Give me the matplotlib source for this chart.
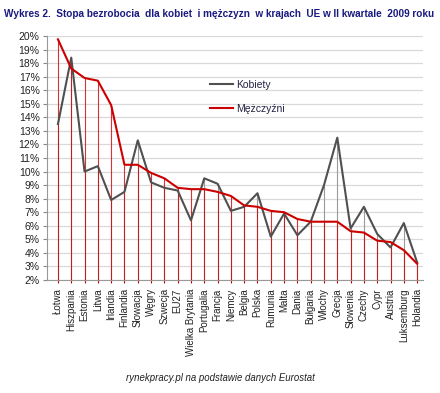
import matplotlib
matplotlib.use("Agg")
import matplotlib.pyplot as plt
from matplotlib.ticker import FuncFormatter, MultipleLocator

plt.rcParams["font.family"] = ["Liberation Sans", "DejaVu Sans"]

countries = ["Łotwa", "Hiszpania", "Estonia", "Litwa", "Irlandia", "Finlandia",
             "Słowacja", "Węgry", "Szwecja", "EU27", "Wielka Brytania", "Portugalia",
             "Francja", "Niemcy", "Belgia", "Polska", "Rumunia", "Malta", "Dania",
             "Bułgaria", "Włochy", "Grecja", "Słowenia", "Czechy", "Cypr", "Austria",
             "Luksemburg", "Holandia"]
kobiety = [13.5, 18.4, 10.0, 10.4, 7.9, 8.5, 12.3, 9.2, 8.8, 8.6, 6.4, 9.5,
           9.1, 7.1, 7.4, 8.4, 5.2, 6.9, 5.3, 6.3, 9.0, 12.5, 5.8, 7.4,
           5.4, 4.4, 6.2, 3.3]
mezczyzni = [19.75, 17.6, 16.9, 16.7, 14.9, 10.5, 10.5, 9.9, 9.5, 8.8, 8.7, 8.7,
             8.5, 8.2, 7.5, 7.4, 7.1, 7.0, 6.5, 6.3, 6.3, 6.3, 5.6, 5.5,
             4.9, 4.8, 4.2, 3.2]

GRAY = "#505050"
RED = "#CC0000"

fig = plt.figure(figsize=(4.40, 3.93), dpi=100)
ax = fig.add_axes([0.106, 0.2875, 0.855, 0.621])

x = list(range(len(countries)))
ax.vlines(x, 2, kobiety, color="#9A9A9A", linewidth=0.8, zorder=2)
ax.vlines(x, 2, mezczyzni, color=RED, linewidth=0.8, alpha=0.8, zorder=2)
ax.plot(x, kobiety, color=GRAY, linewidth=1.5, label="Kobiety", zorder=3)
ax.plot(x, mezczyzni, color=RED, linewidth=1.5, label="Mężczyźni", zorder=4)

ax.set_ylim(2, 20)
ax.set_xlim(-0.85, 27.43)
ax.yaxis.set_major_locator(MultipleLocator(1))
ax.yaxis.set_major_formatter(FuncFormatter(lambda v, p: f"{v:.0f}%"))
ax.grid(axis="y", color="#D9D9D9", linewidth=0.9, zorder=0)
ax.set_axisbelow(True)

ax.set_xticks(x)
ax.set_xticklabels(countries, rotation=90, fontsize=7, color="#222222")
ax.tick_params(axis="y", labelsize=7.5, length=3, color="#888888", labelcolor="#222222", pad=2)
ax.tick_params(axis="x", length=2, color=RED, pad=4)

for side in ["top", "right"]:
    ax.spines[side].set_visible(False)
for side in ["left", "bottom"]:
    ax.spines[side].set_color("#999999")
    ax.spines[side].set_linewidth(0.8)

leg = ax.legend(loc="upper left", bbox_to_anchor=(0.41, 0.86), frameon=False,
                fontsize=7.5, handlelength=2.2, labelspacing=1.4, handletextpad=0.3)
for t in leg.get_texts():
    t.set_color("#222244")

fig.text(0.008, 0.978, "Wykres 2.  Stopa bezrobocia  dla kobiet  i mężczyzn  w krajach  UE w II kwartale  2009 roku",
         fontsize=7.2, fontweight="bold", color="#1A1A80", va="top", ha="left")
fig.text(0.50, 0.038, "rynekpracy.pl na podstawie danych Eurostat", fontsize=6.9,
         style="italic", color="#222222", ha="center", va="center")

fig.savefig("out.png", dpi=100)
